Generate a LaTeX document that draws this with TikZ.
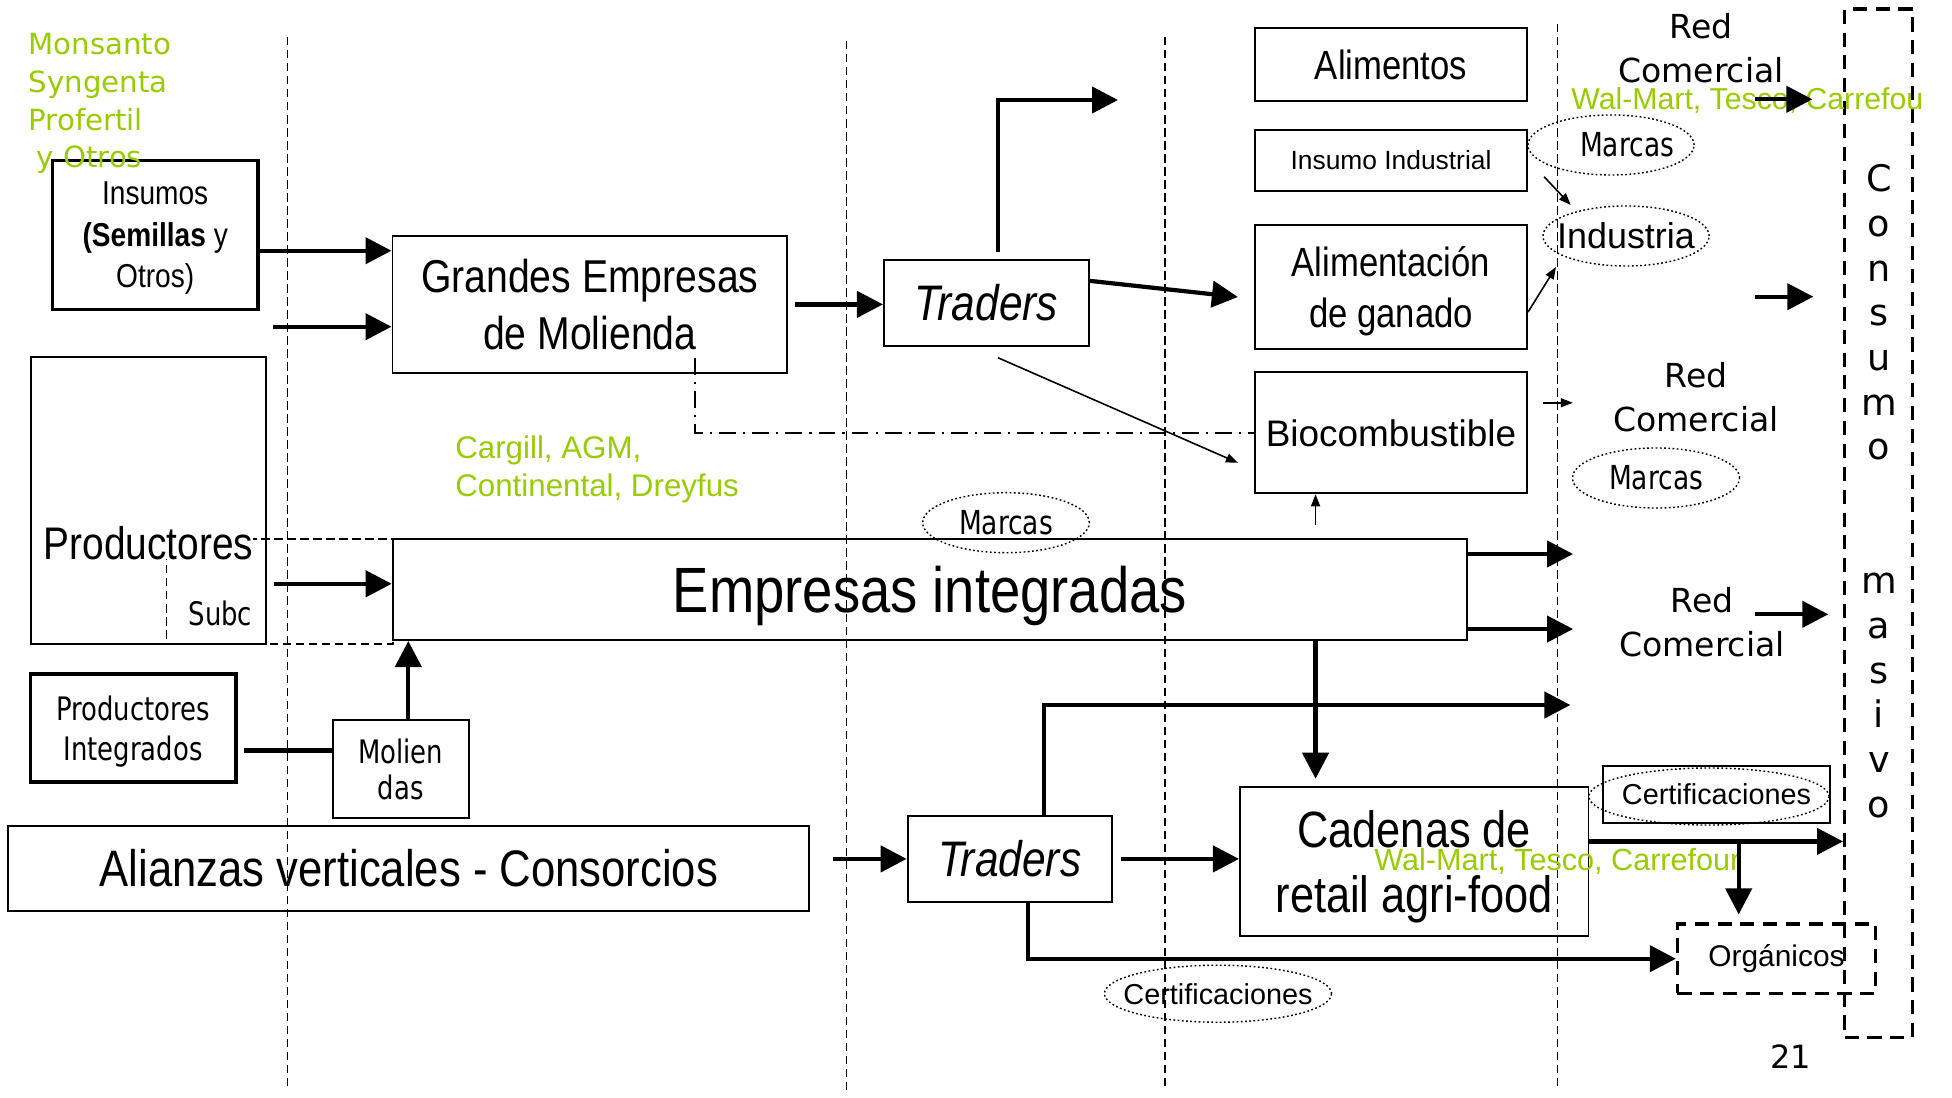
\documentclass[tikz,border=0pt]{standalone}
\usepackage{fontspec}
\setmainfont{Liberation Sans}
\newfontfamily\nar[FakeStretch=0.85]{Liberation Sans}
\newfontfamily\ver{DejaVu Sans}
\newfontfamily\vern[FakeStretch=0.8]{DejaVu Sans}
\usetikzlibrary{arrows.meta,shapes.geometric}
\definecolor{lima}{RGB}{153,204,0}
\newcommand\setfs[2]{\fontsize{#1}{#2}\selectfont}

\begin{document}
\begin{tikzpicture}[x=0.01cm,y=-0.01cm,
    box/.style={draw,line width=0.55pt,inner sep=0pt,align=center},
    heavybox/.style={draw,line width=1pt,inner sep=0pt,align=center},
    dashbox/.style={draw,line width=0.9pt,dash pattern=on 4pt off 2.5pt,inner sep=0pt},
    oval/.style={ellipse,draw,line width=0.4pt,dash pattern=on 0.5pt off 0.7pt,inner sep=0pt},
    plain/.style={inner sep=0pt,align=center},
    green/.style={text=lima,inner sep=0pt,align=left},
    bigarrow/.style={line width=1.2pt,-{Triangle[length=0.26cm,width=0.26cm]}},
    thinarrow/.style={line width=0.45pt,-{Triangle[length=0.12cm,width=0.09cm]}},
    sepline/.style={line width=0.45pt,dash pattern=on 2.4pt off 1.3pt}]
    \useasboundingbox (0,0) rectangle (1952,1097);
    % draw the separators
    \foreach \x/\t in {287.6/37,846.5/41,1164.8/37,1557.6/24}
        \draw[sepline] (\x,\t) -- (\x,1090);
    % define variables.
    \coordinate (insin) at (272.7,326.7);
    \coordinate (topout) at (1118,100);
    \coordinate (molstart) at (695,358);
    \coordinate (rcaa) at (1755,99.3);
    \coordinate (rcab) at (1812.4,99.3);
    \coordinate (rcba) at (1755,296.7);
    \coordinate (rcbb) at (1813.3,296.7);
    \coordinate (rcca) at (1755,614.3);
    \coordinate (rccb) at (1828.3,614.3);
    \coordinate (retout) at (1570.4,705);
    % draw the boxes
    \node[heavybox,minimum width=2.05cm,minimum height=1.486cm,text depth=0pt,font=\nar\setfs{9.4pt}{11.8pt}]
        (insumos) at (155.2,235) {Insumos\\\textbf{(Semillas} y\\Otros)};
    \node[box,minimum width=3.944cm,minimum height=1.373cm,font=\nar\setfs{13.1pt}{16.2pt}]
        (grandes) at (589.8,304.4) {Grandes Empresas\\de Molienda};
    \node[box,minimum width=2.05cm,minimum height=0.857cm,font=\nar\itshape\setfs{14.2pt}{17pt}]
        (traders) at (986.5,302.9) {Traders};
    \node[box,minimum width=2.72cm,minimum height=0.724cm,font=\nar\setfs{11.6pt}{14pt}]
        (alimentos) at (1391,64.5) {Alimentos};
    \node[box,minimum width=2.72cm,minimum height=0.607cm,font=\setfs{7.5pt}{9pt}]
        (insumoind) at (1391,160.4) {Insumo Industrial};
    \node[box,minimum width=2.72cm,minimum height=1.24cm,text depth=0pt,font=\nar\setfs{11.6pt}{14.6pt}]
        (alimgan) at (1391,287) {Alimentación\\de ganado};
    \node[box,minimum width=2.72cm,minimum height=1.21cm,font=\setfs{10.5pt}{12pt}]
        (biocomb) at (1391,432.8) {Biocombustible};
    \node[box,minimum width=10.74cm,minimum height=1.01cm,text depth=0pt,font=\nar\setfs{18.2pt}{22pt}]
        (empint) at (930,589.5) {Empresas integradas};
    \node[box,minimum width=2.347cm,minimum height=2.87cm] (productores) at (148.3,500.5) {};
    \draw[sepline] (166.7,539) rectangle (393,644);
    \node[plain,anchor=base west,fill=white,font=\nar\setfs{13pt}{16pt}]
        (prodlabel) at (43,559) {Productores};
    \node[plain,anchor=base west,font=\vern\setfs{9.2pt}{11pt}] (subc) at (188,625) {Subc};
    \node[heavybox,minimum width=2.05cm,minimum height=1.08cm,text depth=0pt,font=\vern\setfs{9.2pt}{11.4pt}]
        (prodint) at (133.2,728) {Productores\\Integrados};
    \node[box,minimum width=1.363cm,minimum height=0.984cm,font=\vern\setfs{9.2pt}{10.2pt}]
        (molien) at (400.8,769.2) {Molien\\das};
    \node[box,minimum width=8.005cm,minimum height=0.855cm,font=\nar\setfs{14.6pt}{17pt}]
        (alianzas) at (408.8,868.5) {Alianzas verticales - Consorcios};
    \node[box,minimum width=2.04cm,minimum height=0.857cm,font=\nar\itshape\setfs{14.2pt}{17pt}]
        (tradersb) at (1009.7,858.9) {Traders};
    \node[box,minimum width=3.483cm,minimum height=1.493cm,text depth=0pt,font=\nar\setfs{14.5pt}{18.3pt}]
        (cadenas) at (1414.2,861.4) {Cadenas de\\retail agri-food};
    \node[dashbox,minimum width=1.98cm,minimum height=0.693cm,font=\setfs{8.5pt}{10pt}]
        (organicos) at (1776.5,958.7) {Orgánicos};
    \node[dashbox,minimum width=0.682cm,minimum height=10.28cm] (consumo) at (1878.7,523.3) {};
    \node[plain,anchor=north,font=\ver\setfs{10.4pt}{12.7pt}] (consumotxt) at (1879,164)
        {C\\o\\n\\s\\u\\m\\o\\[0.892cm]m\\a\\s\\i\\v\\o};
    \node[box,minimum width=2.27cm,minimum height=0.57cm,font=\setfs{8.2pt}{10pt}]
        (certbox) at (1716.5,794.2) {Certificaciones};
    % draw the ovals
    \node[oval,minimum width=1.66cm,minimum height=0.6cm,font=\vern\setfs{9.4pt}{11pt}]
        (marcasa) at (1611,145) {\makebox[0pt]{\hspace{0.32cm}Marcas}};
    \node[oval,minimum width=1.66cm,minimum height=0.6cm,font=\setfs{10.2pt}{12pt}]
        (industria) at (1626,236) {\makebox[0pt]{Industria}};
    \node[oval,minimum width=1.67cm,minimum height=0.6cm,font=\vern\setfs{9.4pt}{11pt}]
        (marcasb) at (1656,478) {\makebox[0pt]{Marcas}};
    \node[oval,minimum width=1.666cm,minimum height=0.6cm,font=\vern\setfs{9.4pt}{11pt}]
        (marcasc) at (1006,522.7) {\makebox[0pt]{Marcas}};
    \node[oval,minimum width=2.27cm,minimum height=0.57cm,font=\setfs{8.2pt}{10pt}]
        (certb) at (1218,993.7) {\makebox[0pt]{Certificaciones}};
    \node[oval,minimum width=2.4cm,minimum height=0.57cm] (certa) at (1709,796.5) {};
    % draw the texts
    \node[green,anchor=west,font=\ver\setfs{8.3pt}{10.7pt}] (monsanto) at (28,103.7)
        {Monsanto\\Syngenta\\Profertil\\\hspace*{0.08cm}y Otros};
    \node[green,anchor=west,font=\setfs{8.9pt}{10.8pt}] (cargill) at (454.6,469)
        {Cargill, AGM,\\Continental, Dreyfus};
    \node[green,anchor=base west,font=\setfs{8.6pt}{10pt}] (walmarta) at (1570.7,110)
        {Wal-Mart, Tesco, Carrefou};
    \node[green,anchor=base west,font=\setfs{8.7pt}{10pt}] (walmartb) at (1373.6,870.7)
        {Wal-Mart, Tesco, Carrefour};
    \node[plain,font=\ver\setfs{9.4pt}{12.5pt}] (reda) at (1701,48.5) {Red\\Comercial};
    \node[plain,font=\ver\setfs{9.4pt}{12.5pt}] (redb) at (1696,397) {Red\\Comercial};
    \node[plain,font=\ver\setfs{9.4pt}{12.5pt}] (redc) at (1702,622) {Red\\Comercial};
    \node[plain,anchor=base,font=\ver\setfs{9.1pt}{11pt}] (pagenum) at (1790.5,1068.3) {21};
    % draw the arrows
    \draw[bigarrow] ([yshift=-0.157cm]insumos.east -| grandes.west) ++(-1.35cm,0) -- ([yshift=-0.157cm]insumos.east -| grandes.west);
    \draw[bigarrow] (insin) -- (insin -| grandes.west);
    \draw[bigarrow,shorten <=0.07cm] (grandes.east) -- (grandes.east -| traders.west);
    \draw[bigarrow] ([yshift=0.22cm]traders.east) -- ([xshift=-0.16cm,yshift=-0.1cm]alimgan.west);
    \draw[thinarrow] ([xshift=0.115cm,yshift=-0.11cm]traders.south) -- ([xshift=-0.16cm,yshift=-0.3cm]biocomb.west);
    \draw[bigarrow] ([xshift=0.115cm,yshift=0.07cm]traders.north) |- (topout);
    \draw[line width=0.5pt,dash pattern=on 4.8pt off 2pt on 0.6pt off 2pt] (molstart) |- (biocomb.west);
    \draw[thinarrow] ([xshift=0.16cm,yshift=0.15cm]insumoind.south east) -- ([xshift=-0.553cm,yshift=0.31cm]industria.center);
    \draw[thinarrow] ([yshift=-0.25cm]alimgan.east) -- ([xshift=-0.7cm,yshift=-0.31cm]industria.center);
    \draw[bigarrow] (rcaa) -- (rcab);
    \draw[bigarrow] (rcba) -- (rcbb);
    \draw[thinarrow] ([xshift=0.147cm,yshift=0.3cm]biocomb.east) -- ++(0.3cm,0);
    \draw[bigarrow] ([yshift=0.355cm]empint.east) -- ++(1.047cm,0);
    \draw[bigarrow] ([yshift=-0.395cm]empint.east) -- ++(1.047cm,0);
    \draw[bigarrow] (rcca) -- (rccb);
    \coordinate (cx) at ([xshift=-0.986cm]cadenas.north);
    \draw[bigarrow] (cx |- empint.south) -- ([yshift=0.07cm]cx);
    \draw[thinarrow] (cx |- biocomb.south) ++(0,31) -- (cx |- biocomb.south);
    \coordinate (tbx) at ([xshift=0.343cm]tradersb.north);
    \draw[bigarrow] (tbx) |- (retout);
    \draw[bigarrow,shorten <=0.23cm] (alianzas.east |- tradersb.west) -- (tradersb.west);
    \draw[bigarrow,shorten <=0.08cm] (tradersb.east) -- (tradersb.east -| cadenas.west);
    \coordinate (tbs) at ([xshift=0.183cm]tradersb.south);
    \draw[bigarrow] (tbs) |- (organicos.west);
    \coordinate (cade) at ([yshift=0.2cm]cadenas.east);
    \draw[bigarrow] (cade) -- (cade -| consumo.west);
    \coordinate (br) at ([xshift=-0.378cm]organicos.north);
    \draw[bigarrow] (br |- cade) -- ([yshift=0.08cm]br);
    \coordinate (mlw) at ([yshift=0.186cm]molien.west);
    \draw[line width=1.2pt,shorten <=0.063cm] (prodint.east |- mlw) -- (mlw);
    \coordinate (mn) at ([xshift=0.075cm]molien.north);
    \draw[bigarrow] (mn) -- (mn |- empint.south);
    \coordinate (pw) at ([yshift=0.057cm]empint.west);
    \draw[bigarrow,shorten <=0.07cm] (productores.east |- pw) -- (pw);
\end{tikzpicture}
\end{document}
